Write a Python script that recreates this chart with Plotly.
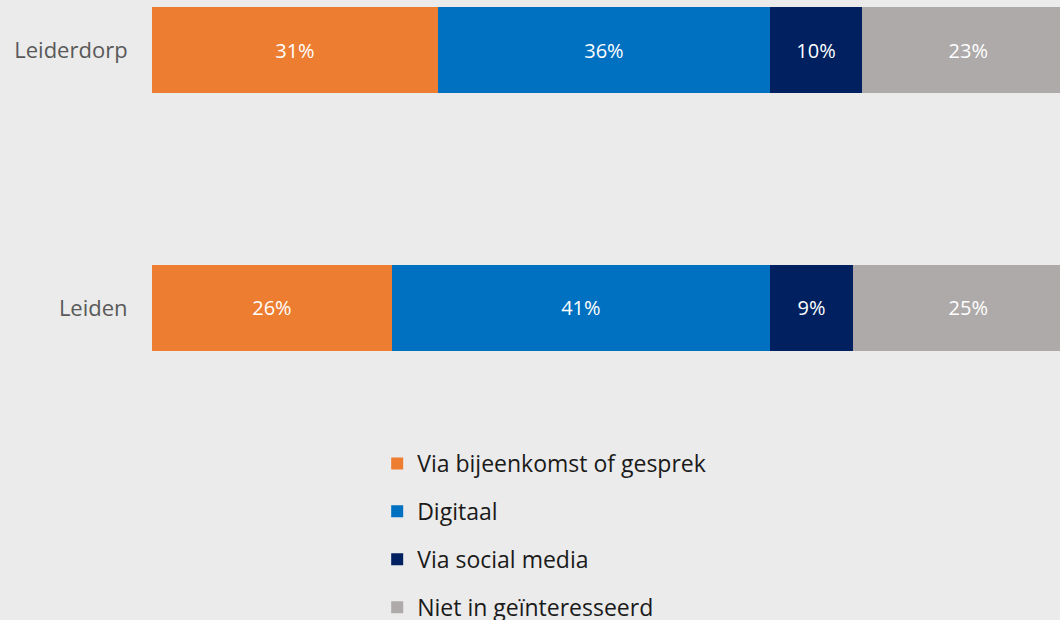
import plotly.graph_objects as go

categories = ["Leiden", "Leiderdorp"]
series = ["Via bijeenkomst of gesprek", "Digitaal", "Via social media", "Niet in geïnteresseerd"]
values = {
    "Via bijeenkomst of gesprek": [26, 31],
    "Digitaal": [41, 36],
    "Via social media": [9, 10],
    "Niet in geïnteresseerd": [25, 23],
}
colors = ["#ED7D31", "#0070C0", "#002060", "#AEAAAA"]

fig = go.Figure()
for name, col in zip(series, colors):
    vals = values[name]
    fig.add_trace(go.Bar(
        y=categories, x=vals, name=name, orientation="h",
        marker=dict(color=col, line=dict(width=0)),
        text=[f"{v}%" for v in vals], textposition="inside",
        insidetextanchor="middle",
        textfont=dict(color="white", size=20, family="Open Sans"),
        legendgroup=name,
    ))

fig.update_layout(
    barmode="stack",
    bargap=0.667,
    width=1060, height=620,
    margin=dict(l=152, r=0, t=0, b=220, autoexpand=False),
    paper_bgcolor="#EBEBEB",
    plot_bgcolor="#EBEBEB",
    font=dict(family="Open Sans", size=20, color="#595959"),
    legend=dict(
        orientation="v", x=0.248, xanchor="left", y=-0.105, yanchor="top",
        font=dict(size=23, color="#1A1A1A", family="Open Sans"),
        tracegroupgap=15, itemwidth=30, traceorder="grouped",
        bgcolor="rgba(0,0,0,0)",
    ),
    showlegend=True,
)
fig.update_xaxes(range=[0, 98.45], visible=False, fixedrange=True)
fig.update_yaxes(
    range=[-0.357, 1.194], showgrid=False, zeroline=False, showline=False,
    ticks="outside", ticklen=19, tickcolor="rgba(0,0,0,0)",
    tickfont=dict(size=22, color="#595959", family="Open Sans"),
)

fig.write_html("out.html", config={"displayModeBar": False},
               post_script="document.body.style.margin='0';")
